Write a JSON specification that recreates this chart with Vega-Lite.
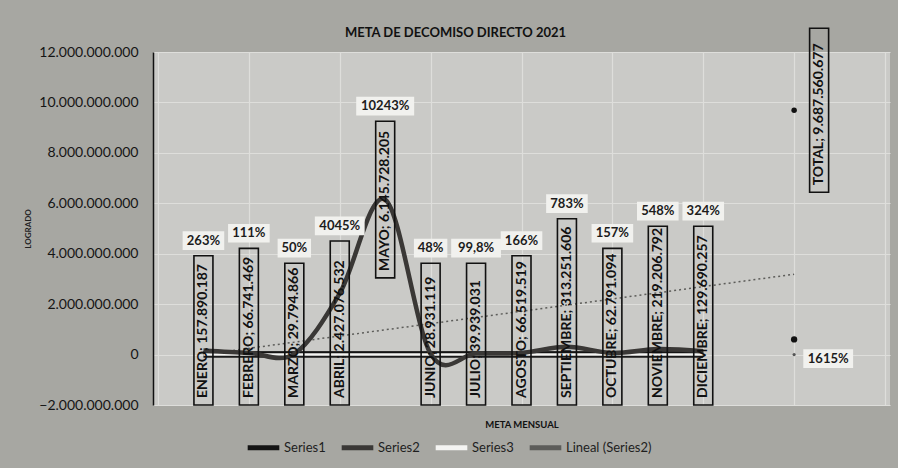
{
  "$schema": "https://vega.github.io/schema/vega-lite/v6.json",
  "width": 737,
  "height": 353,
  "autosize": {"type": "none"},
  "padding": {"left": 153, "top": 52, "right": 8, "bottom": 63},
  "background": "#a7a7a2",
  "title": {"text": "META DE DECOMISO DIRECTO 2021", "font": "Lato", "fontSize": 13, "fontWeight": "bold", "color": "#111111", "anchor": "middle", "dx": -66, "offset": -12},
  "config": {
    "locale": {"number": {"decimal": ",", "thousands": ".", "grouping": [3], "currency": ["", ""]}},
    "view": {"fill": "#cacac7", "stroke": null},
    "font": "Lato",
    "axisY": {"grid": true, "gridColor": "#dededb", "gridWidth": 1.2, "domain": true, "domainColor": "#111111", "domainWidth": 1.5, "ticks": false, "labelFont": "Lato", "labelFontSize": 14, "labelColor": "#151515", "labelPadding": 15, "titleFont": "Lato", "titleFontSize": 8, "titleFontWeight": "bold", "titleColor": "#222222", "titlePadding": 6},
    "axisX": {"grid": true, "gridColor": "#dededb", "gridWidth": 1.2, "titleFont": "Lato", "titleFontSize": 9.5, "titleFontWeight": "bold", "titleColor": "#111111", "titlePadding": 14}
  },
  "datasets": {
    "meses": [
      {"x": 1, "label": "ENERO; 157.890.187", "pctLabel": "263%", "Series1": 60000000, "Series2": 157890187, "Series3": 2.63},
      {"x": 2, "label": "FEBRERO; 66.741.469", "pctLabel": "111%", "Series1": 60000000, "Series2": 66741469, "Series3": 1.11},
      {"x": 3, "label": "MARZO; 29.794.866", "pctLabel": "50%", "Series1": 60000000, "Series2": 29794866, "Series3": 0.5},
      {"x": 4, "label": "ABRIL; 2.427.076.532", "pctLabel": "4045%", "Series1": 60000000, "Series2": 2427076532, "Series3": 40.45},
      {"x": 5, "label": "MAYO; 6.145.728.205", "pctLabel": "10243%", "Series1": 60000000, "Series2": 6145728205, "Series3": 102.43},
      {"x": 6, "label": "JUNIO; 28.931.119", "pctLabel": "48%", "Series1": 60000000, "Series2": 28931119, "Series3": 0.48},
      {"x": 7, "label": "JULIO; 39.939.031", "pctLabel": "99,8%", "Series1": 60000000, "Series2": 39939031, "Series3": 0.998},
      {"x": 8, "label": "AGOSTO; 66.519.519", "pctLabel": "166%", "Series1": 60000000, "Series2": 66519519, "Series3": 1.66},
      {"x": 9, "label": "SEPTIEMBRE; 313.251.606", "pctLabel": "783%", "Series1": 60000000, "Series2": 313251606, "Series3": 7.83},
      {"x": 10, "label": "OCTUBRE; 62.791.094", "pctLabel": "157%", "Series1": 60000000, "Series2": 62791094, "Series3": 1.57},
      {"x": 11, "label": "NOVIEMBRE; 219.206.792", "pctLabel": "548%", "Series1": 60000000, "Series2": 219206792, "Series3": 5.48},
      {"x": 12, "label": "DICIEMBRE; 129.690.257", "pctLabel": "324%", "Series1": 60000000, "Series2": 129690257, "Series3": 3.24},
      {"x": 14, "label": "TOTAL; 9.687.560.677", "pctLabel": "1615%", "Series1": 600000000, "Series2": 9687560677, "Series3": 16.15}
    ]
  },
  "data": {"name": "meses"},
  "transform": [
    {"calculate": "datum.Series2 > 5000000000", "as": "centrado"},
    {"calculate": "(length(datum.label) * 7.4 + 16) * 39660000", "as": "boxLen"},
    {"calculate": "datum.centrado ? datum.Series2 - datum.boxLen / 2 : -2000000000", "as": "boxBot"},
    {"calculate": "datum.boxBot + datum.boxLen", "as": "boxTop"},
    {"calculate": "datum.x == 14 ? datum.x + 0.55 : datum.x", "as": "labX"},
    {"calculate": "datum.x == 14 ? datum.x + 0.75 : datum.x", "as": "pctX"},
    {"calculate": "datum.x == 14 ? -160000000 : datum.boxTop + 600000000", "as": "pctY"},
    {"calculate": "(length(datum.pctLabel) * 8.3 + 9) * 0.0217 / 2", "as": "pctHW"},
    {"calculate": "datum.pctX - datum.pctHW", "as": "pctX1"},
    {"calculate": "datum.pctX + datum.pctHW", "as": "pctX2"},
    {"calculate": "datum.pctY - 370000000", "as": "pctY1"},
    {"calculate": "datum.pctY + 370000000", "as": "pctY2"}
  ],
  "layer": [
    {
      "transform": [{"regression": "Series2", "on": "x", "extent": [1, 14]}],
      "mark": {"type": "line", "strokeWidth": 1.5, "strokeDash": [2, 3]},
      "encoding": {
        "x": {"field": "x", "type": "quantitative", "scale": {"domain": [0, 16], "nice": false, "zero": false}, "axis": {"values": [0, 2, 4, 6, 8, 10, 12, 14, 16], "labels": false, "ticks": false, "domain": false, "title": "META MENSUAL"}},
        "y": {"field": "Series2", "type": "quantitative", "scale": {"domain": [-2000000000, 12000000000], "nice": false, "zero": false}, "axis": {"values": [-2000000000, 0, 2000000000, 4000000000, 6000000000, 8000000000, 10000000000, 12000000000], "format": ",.0f", "title": "LOGRADO"}},
        "color": {"datum": "Lineal (Series2)", "scale": {"domain": ["Series1", "Series2", "Series3", "Lineal (Series2)"], "range": ["#141414", "#3a3836", "#f4f4f2", "#5d5d5a"]}, "legend": {"orient": "none", "legendX": 92, "legendY": 377, "direction": "horizontal", "symbolType": "stroke", "symbolStrokeWidth": 5, "symbolSize": 1000, "labelFont": "Lato", "labelFontSize": 13, "labelColor": "#1e1e1e", "title": null, "columnPadding": 5, "labelOffset": 2}}
      }
    },
    {
      "transform": [{"filter": "datum.x <= 12"}],
      "mark": {"type": "line", "strokeWidth": 6.5, "color": "#1a1a1a"},
      "encoding": {
        "x": {"field": "x", "type": "quantitative", "scale": {"domain": [0, 16], "nice": false, "zero": false}, "axis": {"values": [0, 2, 4, 6, 8, 10, 12, 14, 16], "labels": false, "ticks": false, "domain": false, "title": "META MENSUAL"}},
        "y": {"field": "Series3", "type": "quantitative", "scale": {"domain": [-2000000000, 12000000000], "nice": false, "zero": false}, "axis": {"values": [-2000000000, 0, 2000000000, 4000000000, 6000000000, 8000000000, 10000000000, 12000000000], "format": ",.0f", "title": "LOGRADO"}}
      }
    },
    {
      "transform": [{"filter": "datum.x <= 12"}],
      "mark": {"type": "line", "strokeWidth": 3},
      "encoding": {
        "x": {"field": "x", "type": "quantitative", "scale": {"domain": [0, 16], "nice": false, "zero": false}, "axis": {"values": [0, 2, 4, 6, 8, 10, 12, 14, 16], "labels": false, "ticks": false, "domain": false, "title": "META MENSUAL"}},
        "y": {"field": "Series1", "type": "quantitative", "scale": {"domain": [-2000000000, 12000000000], "nice": false, "zero": false}, "axis": {"values": [-2000000000, 0, 2000000000, 4000000000, 6000000000, 8000000000, 10000000000, 12000000000], "format": ",.0f", "title": "LOGRADO"}},
        "color": {"datum": "Series1", "scale": {"domain": ["Series1", "Series2", "Series3", "Lineal (Series2)"], "range": ["#141414", "#3a3836", "#f4f4f2", "#5d5d5a"]}}
      }
    },
    {
      "transform": [{"filter": "datum.x <= 12"}],
      "mark": {"type": "line", "strokeWidth": 2.5},
      "encoding": {
        "x": {"field": "x", "type": "quantitative", "scale": {"domain": [0, 16], "nice": false, "zero": false}, "axis": {"values": [0, 2, 4, 6, 8, 10, 12, 14, 16], "labels": false, "ticks": false, "domain": false, "title": "META MENSUAL"}},
        "y": {"field": "Series3", "type": "quantitative", "scale": {"domain": [-2000000000, 12000000000], "nice": false, "zero": false}, "axis": {"values": [-2000000000, 0, 2000000000, 4000000000, 6000000000, 8000000000, 10000000000, 12000000000], "format": ",.0f", "title": "LOGRADO"}},
        "color": {"datum": "Series3", "scale": {"domain": ["Series1", "Series2", "Series3", "Lineal (Series2)"], "range": ["#141414", "#3a3836", "#f4f4f2", "#5d5d5a"]}}
      }
    },
    {
      "transform": [{"filter": "datum.x <= 12"}],
      "mark": {"type": "line", "strokeWidth": 4.5, "interpolate": "cardinal"},
      "encoding": {
        "x": {"field": "x", "type": "quantitative", "scale": {"domain": [0, 16], "nice": false, "zero": false}, "axis": {"values": [0, 2, 4, 6, 8, 10, 12, 14, 16], "labels": false, "ticks": false, "domain": false, "title": "META MENSUAL"}},
        "y": {"field": "Series2", "type": "quantitative", "scale": {"domain": [-2000000000, 12000000000], "nice": false, "zero": false}, "axis": {"values": [-2000000000, 0, 2000000000, 4000000000, 6000000000, 8000000000, 10000000000, 12000000000], "format": ",.0f", "title": "LOGRADO"}},
        "color": {"datum": "Series2", "scale": {"domain": ["Series1", "Series2", "Series3", "Lineal (Series2)"], "range": ["#141414", "#3a3836", "#f4f4f2", "#5d5d5a"]}}
      }
    },
    {
      "transform": [{"filter": "datum.x == 14"}],
      "mark": {"type": "circle", "size": 30, "color": "#111111", "opacity": 1},
      "encoding": {
        "x": {"field": "x", "type": "quantitative", "scale": {"domain": [0, 16], "nice": false, "zero": false}, "axis": {"values": [0, 2, 4, 6, 8, 10, 12, 14, 16], "labels": false, "ticks": false, "domain": false, "title": "META MENSUAL"}},
        "y": {"field": "Series2", "type": "quantitative", "scale": {"domain": [-2000000000, 12000000000], "nice": false, "zero": false}, "axis": {"values": [-2000000000, 0, 2000000000, 4000000000, 6000000000, 8000000000, 10000000000, 12000000000], "format": ",.0f", "title": "LOGRADO"}}
      }
    },
    {
      "transform": [{"filter": "datum.x == 14"}],
      "mark": {"type": "circle", "size": 40, "color": "#111111", "opacity": 1},
      "encoding": {
        "x": {"field": "x", "type": "quantitative", "scale": {"domain": [0, 16], "nice": false, "zero": false}, "axis": {"values": [0, 2, 4, 6, 8, 10, 12, 14, 16], "labels": false, "ticks": false, "domain": false, "title": "META MENSUAL"}},
        "y": {"field": "Series1", "type": "quantitative", "scale": {"domain": [-2000000000, 12000000000], "nice": false, "zero": false}, "axis": {"values": [-2000000000, 0, 2000000000, 4000000000, 6000000000, 8000000000, 10000000000, 12000000000], "format": ",.0f", "title": "LOGRADO"}}
      }
    },
    {
      "transform": [{"filter": "datum.x == 14"}],
      "mark": {"type": "circle", "size": 10, "color": "#555555", "opacity": 1},
      "encoding": {
        "x": {"field": "x", "type": "quantitative", "scale": {"domain": [0, 16], "nice": false, "zero": false}, "axis": {"values": [0, 2, 4, 6, 8, 10, 12, 14, 16], "labels": false, "ticks": false, "domain": false, "title": "META MENSUAL"}},
        "y": {"field": "Series3", "type": "quantitative", "scale": {"domain": [-2000000000, 12000000000], "nice": false, "zero": false}, "axis": {"values": [-2000000000, 0, 2000000000, 4000000000, 6000000000, 8000000000, 10000000000, 12000000000], "format": ",.0f", "title": "LOGRADO"}}
      }
    },
    {
      "mark": {"type": "bar", "width": 19, "fillOpacity": 0, "stroke": "#111111", "strokeWidth": 1.6},
      "encoding": {
        "x": {"field": "labX", "type": "quantitative", "scale": {"domain": [0, 16], "nice": false, "zero": false}, "axis": {"values": [0, 2, 4, 6, 8, 10, 12, 14, 16], "labels": false, "ticks": false, "domain": false, "title": "META MENSUAL"}},
        "y": {"field": "boxBot", "type": "quantitative", "scale": {"domain": [-2000000000, 12000000000], "nice": false, "zero": false}, "axis": {"values": [-2000000000, 0, 2000000000, 4000000000, 6000000000, 8000000000, 10000000000, 12000000000], "format": ",.0f", "title": "LOGRADO"}},
        "y2": {"field": "boxTop"}
      }
    },
    {
      "mark": {"type": "text", "angle": 270, "align": "left", "baseline": "middle", "dx": 7, "font": "Lato", "fontSize": 14, "fontWeight": "bold", "color": "#111111"},
      "encoding": {
        "x": {"field": "labX", "type": "quantitative", "scale": {"domain": [0, 16], "nice": false, "zero": false}, "axis": {"values": [0, 2, 4, 6, 8, 10, 12, 14, 16], "labels": false, "ticks": false, "domain": false, "title": "META MENSUAL"}},
        "y": {"field": "boxBot", "type": "quantitative", "scale": {"domain": [-2000000000, 12000000000], "nice": false, "zero": false}, "axis": {"values": [-2000000000, 0, 2000000000, 4000000000, 6000000000, 8000000000, 10000000000, 12000000000], "format": ",.0f", "title": "LOGRADO"}},
        "text": {"field": "label"}
      }
    },
    {
      "mark": {"type": "rect", "color": "#f1f1ee", "opacity": 1},
      "encoding": {
        "x": {"field": "pctX1", "type": "quantitative", "scale": {"domain": [0, 16], "nice": false, "zero": false}, "axis": {"values": [0, 2, 4, 6, 8, 10, 12, 14, 16], "labels": false, "ticks": false, "domain": false, "title": "META MENSUAL"}},
        "x2": {"field": "pctX2"},
        "y": {"field": "pctY1", "type": "quantitative", "scale": {"domain": [-2000000000, 12000000000], "nice": false, "zero": false}, "axis": {"values": [-2000000000, 0, 2000000000, 4000000000, 6000000000, 8000000000, 10000000000, 12000000000], "format": ",.0f", "title": "LOGRADO"}},
        "y2": {"field": "pctY2"}
      }
    },
    {
      "mark": {"type": "text", "align": "center", "baseline": "middle", "font": "Lato", "fontSize": 13, "fontWeight": "bold", "color": "#1c1c1c"},
      "encoding": {
        "x": {"field": "pctX", "type": "quantitative", "scale": {"domain": [0, 16], "nice": false, "zero": false}, "axis": {"values": [0, 2, 4, 6, 8, 10, 12, 14, 16], "labels": false, "ticks": false, "domain": false, "title": "META MENSUAL"}},
        "y": {"field": "pctY", "type": "quantitative", "scale": {"domain": [-2000000000, 12000000000], "nice": false, "zero": false}, "axis": {"values": [-2000000000, 0, 2000000000, 4000000000, 6000000000, 8000000000, 10000000000, 12000000000], "format": ",.0f", "title": "LOGRADO"}},
        "text": {"field": "pctLabel"}
      }
    }
  ]
}
